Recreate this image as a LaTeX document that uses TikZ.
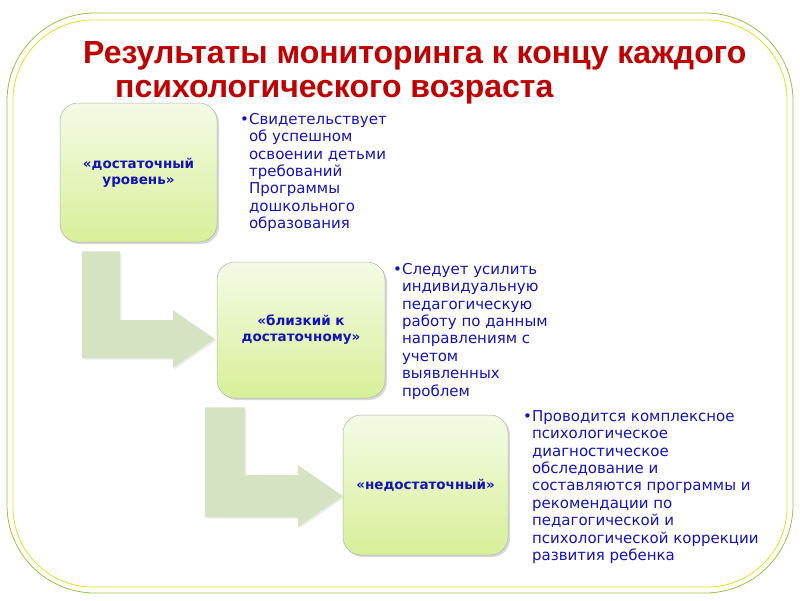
\documentclass[tikz,border=0pt]{standalone}
\usepackage{fontspec}
\setmainfont{DejaVu Sans}
\newfontfamily\titlefont{Liberation Sans}
\usetikzlibrary{calc,shadows}
\definecolor{titlered}{HTML}{C00000}
\definecolor{txtblue}{HTML}{1414B4}
\definecolor{frameout}{HTML}{A0C040}
\definecolor{framein}{HTML}{E8E020}
\definecolor{boxtop}{HTML}{F4FBE6}
\definecolor{boxbot}{HTML}{D8EF98}
\definecolor{arrowfill}{HTML}{D5E3C3}
\begin{document}
\begin{tikzpicture}[x=1pt,y=-1pt,
  levelbox/.style={rounded corners=18pt, top color=boxtop, bottom color=boxbot,
    draw=gray!60, line width=0.5pt, align=center, text=txtblue, inner sep=2pt,
    font=\fontsize{13.5}{16}\selectfont\bfseries,
    drop shadow={opacity=0.3, shadow xshift=2pt, shadow yshift=-2pt}},
  desc/.style={anchor=north west, inner sep=0pt, text=txtblue,
    font=\fontsize{15}{17.4}\selectfont},
  bentarrow/.style={fill=arrowfill, draw=none,
    drop shadow={opacity=0.15, shadow xshift=1.5pt, shadow yshift=-1.5pt}},
  frameline/.style={line width=0.8pt}]
\useasboundingbox (0,0) rectangle (800,600);
\fill[white] (0,0) rectangle (800,600);
% frame
\draw[frameline, draw=frameout, rounded corners=88pt] (7,13) rectangle (793,593);
\draw[frameline, draw=framein, rounded corners=80pt] (13,20) rectangle (787,587);
% title
\node[anchor=north west, inner sep=0pt, text=titlered,
  font=\titlefont\fontsize{32}{34}\selectfont\bfseries] (title) at (83,39)
  {\begin{tabular}{@{}l@{}}Результаты мониторинга к концу каждого\\
   \hspace*{32pt}психологического возраста\end{tabular}};
% boxes
\node[levelbox, minimum width=157pt, minimum height=139pt] (b1) at (138.5,172.5)
  {«достаточный\\уровень»};
\node[levelbox, minimum width=168pt, minimum height=136pt] (b2) at (301,330)
  {«близкий к\\достаточному»};
\node[levelbox, minimum width=165pt, minimum height=140pt] (b3) at (425.5,485)
  {«недостаточный»};
% descriptions
\node[desc] (d1) at (240,112) {\begin{tabular}{@{}l@{}l@{}}•&Свидетельствует\\
  &об успешном\\ &освоении детьми\\ &требований\\ &Программы\\ &дошкольного\\
  &образования\end{tabular}};
\node[desc] (d2) at (393,262) {\begin{tabular}{@{}l@{}l@{}}•&Следует усилить\\
  &индивидуальную\\ &педагогическую\\ &работу по данным\\ &направлениям с\\
  &учетом\\ &выявленных\\ &проблем\end{tabular}};
\node[desc] (d3) at (523,409) {\begin{tabular}{@{}l@{}l@{}}•&Проводится комплексное\\
  &психологическое\\ &диагностическое\\ &обследование и\\
  &составляются программы и\\ &рекомендации по\\ &педагогической и\\
  &психологической коррекции\\ &развития ребенка\end{tabular}};
% bent arrows
\coordinate (s1) at ($(b1.south west)+(22,9)$);
\coordinate (t1) at ($(b2.west)+(-2,9)$);
\fill[bentarrow] (s1) -- ++(38,0) |- ($(t1)+(-42,-19)$) -- ($(t1)+(-42,-29)$)
  -- (t1) -- ($(t1)+(-42,29)$) -- ($(t1)+(-42,19)$) -| (s1) -- cycle;
\coordinate (s2) at ($(b2.south west)+(-12,9)$);
\coordinate (t2) at ($(b3.west)+(0,11)$);
\fill[bentarrow] (s2) -- ++(40,0) |- ($(t2)+(-45,-21)$) -- ($(t2)+(-45,-31)$)
  -- (t2) -- ($(t2)+(-45,31)$) -- ($(t2)+(-45,21)$) -| (s2) -- cycle;
\end{tikzpicture}
\end{document}
